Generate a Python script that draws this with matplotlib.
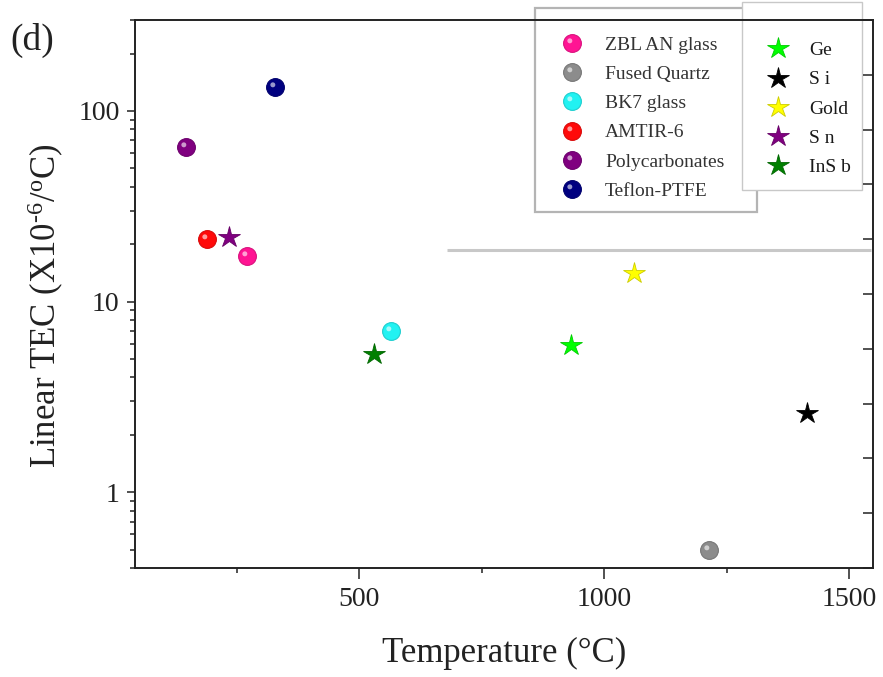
import numpy as np
import matplotlib
matplotlib.use('Agg')
import matplotlib.pyplot as plt
from matplotlib.path import Path
from matplotlib.patches import Rectangle
from matplotlib.legend_handler import HandlerTuple
from matplotlib.ticker import FixedLocator, LogLocator, NullFormatter, FixedFormatter
import matplotlib.colors as mc

plt.rcParams['font.family'] = ['Liberation Serif', 'DejaVu Serif']
plt.rcParams['mathtext.fontset'] = 'custom'
plt.rcParams['mathtext.rm'] = 'Liberation Serif'
plt.rcParams['mathtext.it'] = 'Liberation Serif:italic'

# ---- data (melting temperature in C, linear TEC in 1e-6/C) ----
ball_names = ['ZBL AN glass', 'Fused Quartz', 'BK7 glass', 'AMTIR-6', 'Polycarbonates', 'Teflon-PTFE']
ball_temp = [272, 1214, 565, 189, 147, 329]
ball_tec = [17.3, 0.50, 7.0, 21.4, 65, 134]
ball_colors = ['#ff1493', '#8c8c8c', '#22f2f2', '#ff0a0a', '#800080', '#000080']

star_names = ['Ge', 'S i', 'Gold', 'S n', 'InS b']
star_temp = [932, 1413, 1061, 234, 530]
star_tec = [5.9, 2.6, 14.2, 21.8, 5.3]
star_colors = ['#00ff00', '#000000', '#ffff00', '#800080', '#008000']

x_major = [500, 1000, 1500]
x_minor = [250, 750, 1250]
y_major = [1, 10, 100]
y_major_labels = ['1', '10', '100']

ref_line_x = [680, 1543]
ref_line_y = 18.7

W, H = 883, 677

# ---- figure ----
fig = plt.figure(figsize=(W / 100, H / 100), dpi=100)
ax = fig.add_axes([0.1529, 0.161, 0.8358, 0.8095])
ax.set_yscale('log')
ax.set_xlim(43, 1548)
ax.set_ylim(0.4, 300)

# highlight path for the "sphere" look
circ = Path.circle(center=(-0.15, 0.15), radius=0.14)
hl_verts = np.vstack([circ.vertices, [[0.5, -0.5]]])
hl_codes = np.concatenate([circ.codes, [Path.MOVETO]])
highlight = Path(hl_verts, hl_codes)


def darker(c, f=0.75):
    r, g, b = mc.to_rgb(c)
    return (r * f, g * f, b * f)


ball_size = 12.8
star_size = 16

ax.plot(ref_line_x, [ref_line_y, ref_line_y], color='#c8c8c8', lw=2.2,
        solid_capstyle='butt', zorder=1)

ball_handles = []
for n, t, v, c in zip(ball_names, ball_temp, ball_tec, ball_colors):
    h1, = ax.plot([t], [v], 'o', ms=ball_size, mfc=c, mec=darker(c, 0.85), mew=0.8,
                  linestyle='none', zorder=4)
    h2, = ax.plot([t], [v], marker=highlight, ms=ball_size, mfc=(1, 1, 1, 0.6),
                  mec='none', linestyle='none', zorder=5)
    ball_handles.append((h1, h2))

star_handles = []
for n, t, v, c in zip(star_names, star_temp, star_tec, star_colors):
    h, = ax.plot([t], [v], '*', ms=star_size, mfc=c, mec=darker(c, 0.8), mew=0.6,
                 linestyle='none', zorder=4)
    star_handles.append(h)

# ticks
ax.xaxis.set_major_locator(FixedLocator(x_major))
ax.xaxis.set_minor_locator(FixedLocator(x_minor))
ax.set_xticklabels([str(v) for v in x_major])
ax.yaxis.set_major_locator(FixedLocator(y_major))
ax.yaxis.set_major_formatter(FixedFormatter(y_major_labels))
ax.yaxis.set_minor_locator(LogLocator(base=10, subs=np.arange(2, 10)))
ax.yaxis.set_minor_formatter(NullFormatter())

spine_color = '#222222'
for s in ax.spines.values():
    s.set_color(spine_color)
    s.set_linewidth(1.2)

ax.tick_params(axis='x', which='major', direction='out', length=8, width=1.1,
               labelsize=20, pad=6, color=spine_color, labelcolor='#222222', top=False)
ax.tick_params(axis='x', which='minor', direction='out', length=3.6, width=1.1,
               color=spine_color, top=False)
ax.tick_params(axis='y', which='major', direction='out', length=6, width=1.1,
               labelsize=20, pad=5, color=spine_color, labelcolor='#222222', right=False)
ax.tick_params(axis='y', which='minor', direction='out', length=3.5, width=1.1,
               color=spine_color, right=False)

ax.set_xlabel('Temperature (°C)', fontsize=25, labelpad=18, color='#222222')
ax.set_ylabel('Linear TEC (X10$^{\\mathregular{\u20106}}$/$^{\\mathregular{o}}$C)',
              fontsize=25, color='#222222')
ax.yaxis.set_label_coords(-0.094, 0.478)

# right-hand linear ticks (twin axis without labels)
ax2 = ax.twinx()
ax2.set_ylim(0, 10)
ax2.set_yticks(np.arange(0, 11))
ax2.tick_params(axis='y', direction='in', length=7, width=1.1, labelright=False,
                color=spine_color)
for s in ax2.spines.values():
    s.set_color(spine_color)
    s.set_linewidth(1.2)

# legend frames (drawn below the spines)
box1 = Rectangle((535 / W, 1 - 212 / H), 222 / W, 204 / H, transform=fig.transFigure,
                 facecolor='none', edgecolor='#b4b4b4', lw=1.6, clip_on=False, zorder=1.5)
ax.add_patch(box1)

# legends
leg1 = ax.legend(ball_handles, ball_names, handler_map={tuple: HandlerTuple(ndivide=1)},
                 loc='upper left', bbox_to_anchor=(556 / W, 1 - 36 / H),
                 bbox_transform=fig.transFigure, borderaxespad=0, borderpad=0,
                 fontsize=14, frameon=False, handlelength=1.6, handletextpad=0.92,
                 labelspacing=0.6, labelcolor='#333333')
leg1.set_zorder(1.6)
ax.add_artist(leg1)

box2 = Rectangle((742 / W, 1 - 190 / H), 120 / W, 188 / H, transform=fig.transFigure,
                 facecolor='white', edgecolor='#c8c8c8', lw=1.0, clip_on=False, zorder=1.7)
ax.add_patch(box2)

leg2 = ax.legend(star_handles, star_names,
                 loc='upper left', bbox_to_anchor=(762.5 / W, 1 - 41.5 / H),
                 bbox_transform=fig.transFigure, borderaxespad=0, borderpad=0,
                 fontsize=14, frameon=False, handlelength=1.6, handletextpad=0.79,
                 labelspacing=0.6, labelcolor='#1a1a1a')
leg2.set_zorder(1.8)

fig.text(10 / W, 1 - 40 / H, '(d)', fontsize=27, va='center', ha='left', color='#222222')

fig.savefig('out.png', dpi=100)
